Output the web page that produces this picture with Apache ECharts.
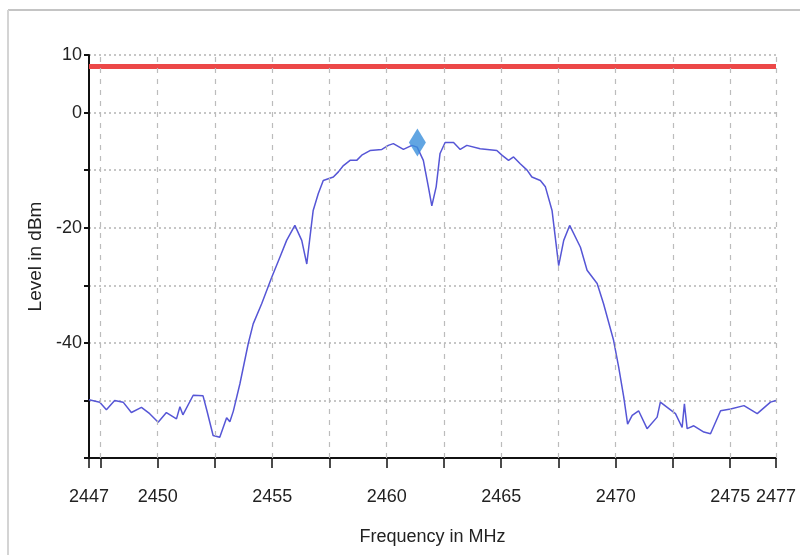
<!DOCTYPE html>
<html>
<head>
<meta charset="utf-8">
<script src="https://cdn.jsdelivr.net/npm/echarts@6/dist/echarts.min.js"></script>
<style>
html,body{margin:0;padding:0;background:#fff;}
#chart{width:800px;height:555px;}
</style>
</head>
<body>
<div id="chart"></div>
<script>
// Frequency (MHz) of the traced spectrum
const freq = [2447.00,2447.47,2447.76,2448.12,2448.49,2448.85,2449.29,2449.65,2450.02,2450.38,2450.82,2450.97,2451.10,2451.55,2451.98,2452.15,2452.42,2452.71,2453.01,2453.15,2453.30,2453.59,2453.95,2454.17,2454.54,2454.98,2455.34,2455.63,2455.99,2456.29,2456.51,2456.72,2456.79,2457.01,2457.23,2457.67,2457.89,2458.11,2458.40,2458.69,2458.91,2459.27,2459.79,2460.07,2460.29,2460.73,2461.10,2461.33,2461.60,2461.82,2461.97,2462.16,2462.33,2462.55,2462.92,2463.21,2463.50,2464.08,2464.81,2465.03,2465.32,2465.54,2465.83,2466.13,2466.34,2466.71,2466.93,2467.22,2467.51,2467.73,2467.99,2468.46,2468.75,2469.19,2469.47,2469.91,2470.13,2470.35,2470.52,2470.72,2471.00,2471.37,2471.81,2471.95,2472.25,2472.61,2472.90,2473.00,2473.12,2473.41,2473.85,2474.14,2474.58,2475.02,2475.60,2476.18,2476.76,2477.00];
// Level (dBm)
const level = [-49.9,-50.3,-51.6,-50.0,-50.3,-52.1,-51.2,-52.3,-53.8,-52.1,-53.2,-51.1,-52.5,-49.1,-49.2,-51.8,-56.1,-56.4,-53.0,-53.7,-51.9,-47.1,-40.2,-36.7,-33.2,-28.6,-25.1,-22.2,-19.6,-22.2,-26.3,-19.3,-17.0,-14.1,-11.8,-11.2,-10.3,-9.2,-8.3,-8.3,-7.4,-6.6,-6.4,-5.7,-5.4,-6.4,-5.7,-6.0,-8.3,-12.9,-16.2,-12.9,-7.1,-5.2,-5.2,-6.4,-5.7,-6.3,-6.6,-7.4,-8.3,-7.7,-8.9,-10.0,-11.2,-11.8,-12.9,-17.0,-26.6,-22.2,-19.6,-23.4,-27.4,-29.7,-33.2,-39.6,-44.2,-49.4,-54.1,-52.6,-51.8,-54.9,-52.9,-50.3,-51.2,-52.3,-54.7,-50.6,-54.9,-54.4,-55.5,-55.8,-51.8,-51.5,-50.9,-52.3,-50.3,-50.0];
// Limit line (dBm)
const limitFreq = [2447, 2477];
const limitLevel = [8, 8];
// Marker
const markerFreq = [2461.34];
const markerLevel = [-5.2];
// Axis ticks / labels
const xLabelValues = [2447, 2450, 2455, 2460, 2465, 2470, 2475, 2477];
const xTickValues = [2447, 2447.5, 2450, 2452.5, 2455, 2457.5, 2460, 2462.5, 2465, 2467.5, 2470, 2472.5, 2475, 2477];
const xGridValues = [2447.5, 2450, 2452.5, 2455, 2457.5, 2460, 2462.5, 2465, 2467.5, 2470, 2472.5, 2475, 2477];
const yLabelValues = [10, 0, -20, -40];

const font = "'Liberation Sans',Arial,sans-serif";

const chart = echarts.init(document.getElementById('chart'), null, {renderer: 'canvas'});
chart.setOption({
  animation: false,
  backgroundColor: '#fff',
  grid: {left: 89, right: 24, top: 55, bottom: 97},
  graphic: [
    {type: 'line', shape: {x1: 8, y1: 10, x2: 800, y2: 10}, style: {stroke: '#c4c4c4', lineWidth: 2}},
    {type: 'line', shape: {x1: 8, y1: 10, x2: 8, y2: 555}, style: {stroke: '#d4d4d4', lineWidth: 2}}
  ],
  xAxis: {
    type: 'value', min: 2447, max: 2477,
    name: 'Frequency in MHz', nameLocation: 'middle', nameGap: 70,
    nameTextStyle: {fontFamily: font, fontSize: 18, color: '#222'},
    axisLine: {show: true, onZero: false, lineStyle: {color: '#111', width: 2}},
    axisTick: {show: true, customValues: xTickValues, length: 10, lineStyle: {color: '#111', width: 1.5}},
    axisLabel: {customValues: xLabelValues, showMinLabel: true, showMaxLabel: true, margin: 30,
      fontFamily: font, fontSize: 18, color: '#222', formatter: v => String(v)},
    splitLine: {show: false}
  },
  yAxis: {
    type: 'value', min: -60, max: 10, interval: 10,
    name: 'Level in dBm', nameLocation: 'middle', nameGap: 39, nameRotate: 90,
    nameTextStyle: {fontFamily: font, fontSize: 19, color: '#222'},
    axisLine: {show: true, onZero: false, lineStyle: {color: '#111', width: 2}},
    axisTick: {show: true, length: 5, lineStyle: {color: '#111', width: 2}},
    axisLabel: {margin: 7, fontFamily: font, fontSize: 18, color: '#222',
      formatter: v => yLabelValues.indexOf(v) >= 0 ? String(v) : ''},
    splitLine: {show: true, lineStyle: {color: '#b4b4b4', type: [2, 3], width: 1.5}}
  },
  series: [
    {
      name: 'grid', type: 'line', z: 1, data: [[2447, -60]], showSymbol: false, silent: true,
      lineStyle: {opacity: 0},
      markLine: {
        silent: true, symbol: 'none', label: {show: false}, animation: false,
        lineStyle: {type: [5, 6], color: '#bcbcbc', width: 1.2},
        data: xGridValues.map(v => ({xAxis: v}))
      }
    },
    {
      name: 'limit', type: 'line', z: 3, showSymbol: false, silent: true,
      data: limitFreq.map((f, i) => [f, limitLevel[i]]),
      lineStyle: {color: '#ec4848', width: 5}
    },
    {
      name: 'trace', type: 'line', z: 4, showSymbol: false, silent: true,
      data: freq.map((f, i) => [f, level[i]]),
      lineStyle: {color: '#5656d6', width: 1.5}
    },
    {
      name: 'marker', type: 'scatter', z: 5, silent: true,
      data: markerFreq.map((f, i) => [f, markerLevel[i]]),
      symbol: 'diamond', symbolSize: [17, 28],
      itemStyle: {color: '#3a8fdb'}
    }
  ]
});
</script>
</body>
</html>
